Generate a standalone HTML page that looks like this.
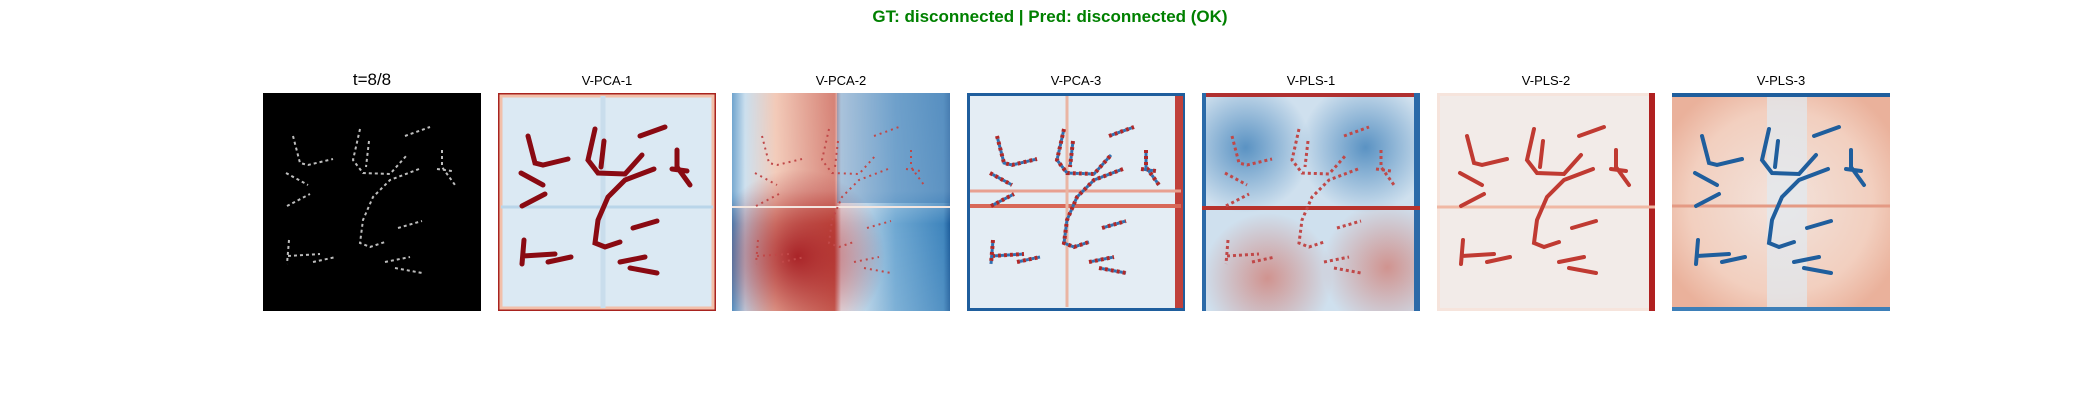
<!DOCTYPE html>
<html><head><meta charset="utf-8"><style>
html,body{margin:0;padding:0;background:#fff;}
body{width:2100px;height:400px;overflow:hidden;position:relative;font-family:"Liberation Sans","DejaVu Sans",sans-serif;}
</style></head><body>
<svg width="2100" height="400" xmlns="http://www.w3.org/2000/svg" style="position:absolute;left:0;top:0">
<defs>
<path id="tr" fill="none" d="M30,43 L37,70 L45,72 L70,66 M23,80 L45,92 M24,113 L47,101 M97,36 L90,67 L100,80 L127,81 L144,62 M106,48 L103,74 M142,43 L167,34 M156,76 L127,87 L110,104 L100,127 L97,150 L107,154 L122,149 M179,57 L179,74 L192,92 M174,76 L189,78 M135,135 L159,128 M26,147 L24,171 M25,163 L57,161 M50,169 L73,164 M122,169 L147,164 M132,175 L159,180"/>
<linearGradient id="p3" x1="0" x2="1" y1="0" y2="0">
<stop offset="0" stop-color="#3f85bd"/><stop offset="0.06" stop-color="#b9d4e8"/><stop offset="0.2" stop-color="#eeb8a0"/><stop offset="0.47" stop-color="#c85848"/><stop offset="0.5" stop-color="#e8eef3"/><stop offset="0.75" stop-color="#6fa8d2"/><stop offset="0.97" stop-color="#3f85bd"/><stop offset="1" stop-color="#1e5e9c"/>
</linearGradient>
<linearGradient id="p3v" x1="0" x2="0" y1="0" y2="1">
<stop offset="0" stop-color="#fff" stop-opacity="0.25"/><stop offset="0.45" stop-color="#fff" stop-opacity="0.3"/><stop offset="0.6" stop-color="#fff" stop-opacity="0"/><stop offset="1" stop-color="#fff" stop-opacity="0.1"/>
</linearGradient>
<radialGradient id="p3r" cx="0.3" cy="0.75" r="0.4"><stop offset="0" stop-color="#a01018" stop-opacity="0.85"/><stop offset="1" stop-color="#a01018" stop-opacity="0"/></radialGradient>
<radialGradient id="p5a" cx="0.2" cy="0.25" r="0.3"><stop offset="0" stop-color="#3d7fb8" stop-opacity="0.8"/><stop offset="1" stop-color="#3d7fb8" stop-opacity="0"/></radialGradient>
<radialGradient id="p5b" cx="0.75" cy="0.25" r="0.3"><stop offset="0" stop-color="#3d7fb8" stop-opacity="0.8"/><stop offset="1" stop-color="#3d7fb8" stop-opacity="0"/></radialGradient>
<radialGradient id="p5c" cx="0.3" cy="0.85" r="0.3"><stop offset="0" stop-color="#d06050" stop-opacity="0.6"/><stop offset="1" stop-color="#d06050" stop-opacity="0"/></radialGradient>
<radialGradient id="p5d" cx="0.85" cy="0.8" r="0.3"><stop offset="0" stop-color="#d06050" stop-opacity="0.6"/><stop offset="1" stop-color="#d06050" stop-opacity="0"/></radialGradient>
<radialGradient id="p7" cx="0.5" cy="0.5" r="0.6"><stop offset="0" stop-color="#f3e3dc"/><stop offset="0.7" stop-color="#f2cfbf"/><stop offset="1" stop-color="#eab19b"/></radialGradient>
</defs>

<text x="1050" y="22" text-anchor="middle" font-size="17" font-weight="bold" fill="#008000">GT: disconnected | Pred: disconnected (OK)</text>

<g font-size="13" fill="#000" text-anchor="middle">
<text x="372" y="85" font-size="17">t=8/8</text>
<text x="607" y="85">V-PCA-1</text>
<text x="841" y="85">V-PCA-2</text>
<text x="1076" y="85">V-PCA-3</text>
<text x="1311" y="85">V-PLS-1</text>
<text x="1546" y="85">V-PLS-2</text>
<text x="1781" y="85">V-PLS-3</text>
</g>

<g transform="translate(263,93)">
<rect width="218" height="218" fill="#000"/>
<use href="#tr" stroke="#bdbdbd" stroke-width="2" stroke-dasharray="3,3"/>
</g>
<g transform="translate(498,93)">
<rect width="218" height="218" fill="#a8231f"/>
<rect x="3" y="3" width="212" height="212" fill="#dbe9f3"/>
<rect x="3" y="3" width="212" height="212" fill="none" stroke="#f2c0aa" stroke-width="3"/>
<line x1="3" y1="114" x2="215" y2="114" stroke="#b9d5e9" stroke-width="3"/>
<line x1="105" y1="3" x2="105" y2="215" stroke="#c9ddec" stroke-width="5"/>
<use href="#tr" stroke="#8a0a12" stroke-width="5" stroke-linecap="round"/>
</g>
<g transform="translate(732,93)">
<rect width="218" height="218" fill="url(#p3)"/>
<rect width="218" height="218" fill="url(#p3v)"/>
<rect width="218" height="218" fill="url(#p3r)"/>
<rect x="105" y="0" width="113" height="110" fill="#2b6aa8" opacity="0.35"/>
<line x1="0" y1="114" x2="218" y2="114" stroke="#f3e6e0" stroke-width="2"/>
<use href="#tr" stroke="#c04848" stroke-width="2" stroke-dasharray="2,4"/>
</g>
<g transform="translate(967,93)">
<rect width="218" height="218" fill="#1f5e9d"/>
<rect x="3" y="3" width="212" height="212" fill="#e4edf4"/>
<rect x="208" y="3" width="8" height="212" fill="#c0403a"/>
<line x1="3" y1="98" x2="214" y2="98" stroke="#e8a090" stroke-width="3"/>
<line x1="3" y1="113" x2="214" y2="113" stroke="#d86858" stroke-width="4"/>
<line x1="100" y1="3" x2="100" y2="214" stroke="#eab5a3" stroke-width="3"/>
<use href="#tr" stroke="#b02828" stroke-width="4" stroke-dasharray="3,3"/>
<use href="#tr" stroke="#3070b0" stroke-width="3" stroke-dasharray="3,3" stroke-dashoffset="3"/>
</g>
<g transform="translate(1202,93)">
<rect width="218" height="218" fill="#cfe0ee"/>
<rect width="218" height="218" fill="url(#p5a)"/>
<rect width="218" height="218" fill="url(#p5b)"/>
<rect width="218" height="218" fill="url(#p5c)"/>
<rect width="218" height="218" fill="url(#p5d)"/>
<rect width="218" height="4" fill="#b03030"/>
<rect x="0" y="0" width="4" height="218" fill="#2b6aa8"/>
<rect x="212" y="0" width="6" height="218" fill="#2b6aa8"/>
<line x1="0" y1="115" x2="218" y2="115" stroke="#b8322c" stroke-width="4"/>
<use href="#tr" stroke="#c04848" stroke-width="3" stroke-dasharray="3,3"/>
</g>
<g transform="translate(1437,93)">
<rect width="218" height="218" fill="#f6e4dc"/>
<rect x="3" y="3" width="212" height="212" fill="#f2ebe8"/>
<rect x="212" y="0" width="6" height="218" fill="#b02020"/>
<line x1="0" y1="114" x2="218" y2="114" stroke="#f0b8a4" stroke-width="3"/>
<use href="#tr" stroke="#c03a32" stroke-width="4" stroke-linecap="round"/>
</g>
<g transform="translate(1672,93)">
<rect width="218" height="218" fill="url(#p7)"/>
<rect x="95" y="3" width="40" height="212" fill="#dfe9f1" opacity="0.7"/>
<rect width="218" height="4" fill="#1f5e9d"/>
<rect y="214" width="218" height="4" fill="#3d7fb8"/>
<line x1="0" y1="113" x2="218" y2="113" stroke="#e49a84" stroke-width="3"/>
<use href="#tr" stroke="#1f5e9d" stroke-width="4" stroke-linecap="round"/>
</g>
</svg>
</body></html>
